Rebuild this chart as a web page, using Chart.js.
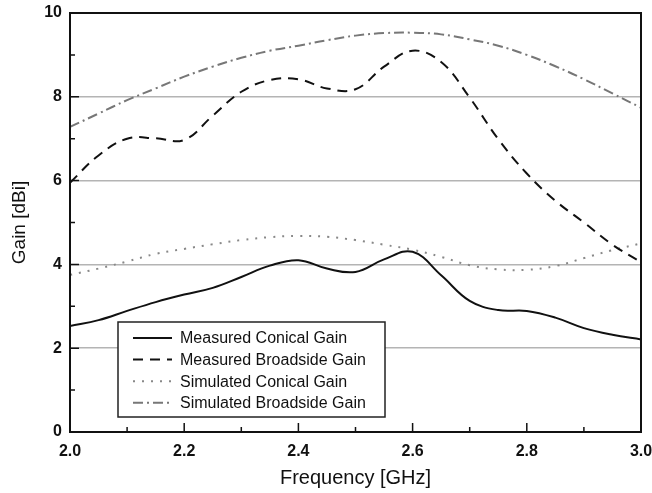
<!DOCTYPE html>
<html>
<head>
<meta charset="utf-8">
<script src="https://cdn.jsdelivr.net/npm/chart.js@4/dist/chart.umd.min.js"></script>
<style>
  html, body { margin: 0; background: #fff; }
  #wrap { width: 652px; height: 493px; }
</style>
</head>
<body>
<div id="wrap"><canvas id="chart"></canvas></div>
<script>
// frequency points [GHz]
const freq = [2.00, 2.05, 2.10, 2.15, 2.20, 2.25, 2.30, 2.35, 2.40, 2.45, 2.50,
              2.55, 2.60, 2.65, 2.70, 2.75, 2.80, 2.85, 2.90, 2.95, 3.00];

// gain values [dBi]
const measuredConical   = [2.53, 2.67, 2.89, 3.10, 3.28, 3.44, 3.70, 3.97, 4.10, 3.90, 3.82,
                           4.12, 4.30, 3.74, 3.13, 2.91, 2.89, 2.73, 2.48, 2.32, 2.21];
const measuredBroadside = [5.95, 6.60, 7.00, 7.01, 6.97, 7.55, 8.12, 8.40, 8.42, 8.20, 8.18,
                           8.72, 9.10, 8.83, 7.98, 6.99, 6.17, 5.52, 5.00, 4.47, 4.05];
const simulatedConical  = [3.75, 3.90, 4.07, 4.25, 4.37, 4.48, 4.58, 4.65, 4.68, 4.66, 4.58,
                           4.47, 4.35, 4.18, 3.98, 3.88, 3.87, 3.96, 4.15, 4.34, 4.50];
const simulatedBroadside = [7.28, 7.60, 7.92, 8.20, 8.48, 8.72, 8.93, 9.10, 9.22, 9.35, 9.46,
                            9.52, 9.53, 9.49, 9.37, 9.22, 9.00, 8.73, 8.42, 8.08, 7.74];

const seriesLabels = ['Measured Conical Gain', 'Measured Broadside Gain',
                      'Simulated Conical Gain', 'Simulated Broadside Gain'];

const FONT = "'Liberation Sans', Arial, sans-serif";

const toPoints = vals => freq.map((f, i) => ({ x: f, y: vals[i] }));

// box frame, inward ticks and the boxed legend inside the plot
const framePlugin = {
  id: 'frame',
  afterDatasetsDraw(chart) {
    const { ctx, chartArea: a, scales: { x, y } } = chart;
    ctx.save();
    ctx.strokeStyle = '#111';
    ctx.lineWidth = 2;
    ctx.strokeRect(a.left, a.top, a.right - a.left, a.bottom - a.top);

    ctx.lineWidth = 1.5;
    ctx.beginPath();
    for (let i = 1; i < 10; i++) {
      const px = x.getPixelForValue(2 + i / 10);
      const len = i % 2 === 0 ? 9 : 5;
      ctx.moveTo(px, a.bottom);
      ctx.lineTo(px, a.bottom - len);
    }
    for (let v = 1; v < 10; v++) {
      const py = y.getPixelForValue(v);
      const len = v % 2 === 0 ? 9 : 5;
      ctx.moveTo(a.left, py);
      ctx.lineTo(a.left + len, py);
    }
    ctx.stroke();

    // legend
    const bx = a.left + 48, by = a.bottom - 110, bw = 267, bh = 95;
    ctx.fillStyle = '#fff';
    ctx.fillRect(bx, by, bw, bh);
    ctx.strokeStyle = '#222';
    ctx.lineWidth = 1.5;
    ctx.strokeRect(bx, by, bw, bh);
    ctx.font = '16px ' + FONT;
    ctx.textBaseline = 'middle';
    chart.data.datasets.forEach((ds, i) => {
      const ry = by + 16 + i * 21.6;
      ctx.beginPath();
      ctx.strokeStyle = ds.borderColor;
      ctx.lineWidth = ds.borderWidth;
      ctx.setLineDash(ds.borderDash || []);
      ctx.moveTo(bx + 15, ry);
      ctx.lineTo(bx + 54, ry);
      ctx.stroke();
      ctx.setLineDash([]);
      ctx.fillStyle = '#111';
      ctx.fillText(ds.label, bx + 62, ry + 1);
    });
    ctx.restore();
  }
};

new Chart(document.getElementById('chart'), {
  type: 'line',
  data: {
    datasets: [
      { label: seriesLabels[0], data: toPoints(measuredConical),
        borderColor: '#111', borderWidth: 2 },
      { label: seriesLabels[1], data: toPoints(measuredBroadside),
        borderColor: '#111', borderWidth: 2, borderDash: [10, 7] },
      { label: seriesLabels[2], data: toPoints(simulatedConical),
        borderColor: '#888', borderWidth: 2, borderDash: [2, 7] },
      { label: seriesLabels[3], data: toPoints(simulatedBroadside),
        borderColor: '#777', borderWidth: 2, borderDash: [10, 4, 2, 4] }
    ]
  },
  options: {
    responsive: true,
    maintainAspectRatio: false,
    animation: false,
    layout: { padding: { top: 13, right: 11, left: 0, bottom: 0 } },
    elements: {
      point: { radius: 0 },
      line: { tension: 0.4, fill: false }
    },
    plugins: {
      legend: { display: false },
      tooltip: { enabled: false }
    },
    scales: {
      x: {
        type: 'linear',
        min: 2.0,
        max: 3.0,
        afterFit: s => { s.height = 61; s.paddingLeft = 0; s.paddingRight = 0; },
        border: { display: false },
        grid: { display: false, drawTicks: false },
        ticks: {
          stepSize: 0.2,
          padding: 10,
          color: '#111',
          maxRotation: 0,
          font: { family: FONT, size: 16, weight: 'bold' },
          callback: v => v.toFixed(1)
        },
        title: {
          display: true,
          text: 'Frequency [GHz]',
          color: '#111',
          padding: { top: 0, bottom: 3 },
          font: { family: FONT, size: 20 }
        }
      },
      y: {
        min: 0,
        max: 10,
        afterFit: s => { s.width = 70; s.paddingTop = 0; s.paddingBottom = 0; },
        border: { display: false },
        grid: {
          drawTicks: false,
          lineWidth: 1.5,
          color: c => (c.tick && c.tick.value > 0 && c.tick.value < 10) ? '#b4b4b4' : 'rgba(0,0,0,0)'
        },
        ticks: {
          stepSize: 2,
          padding: 8,
          color: '#111',
          font: { family: FONT, size: 16, weight: 'bold' }
        },
        title: {
          display: true,
          text: 'Gain [dBi]',
          color: '#111',
          padding: { top: 8, bottom: 0 },
          font: { family: FONT, size: 19 }
        }
      }
    }
  },
  plugins: [framePlugin]
});
</script>
</body>
</html>
